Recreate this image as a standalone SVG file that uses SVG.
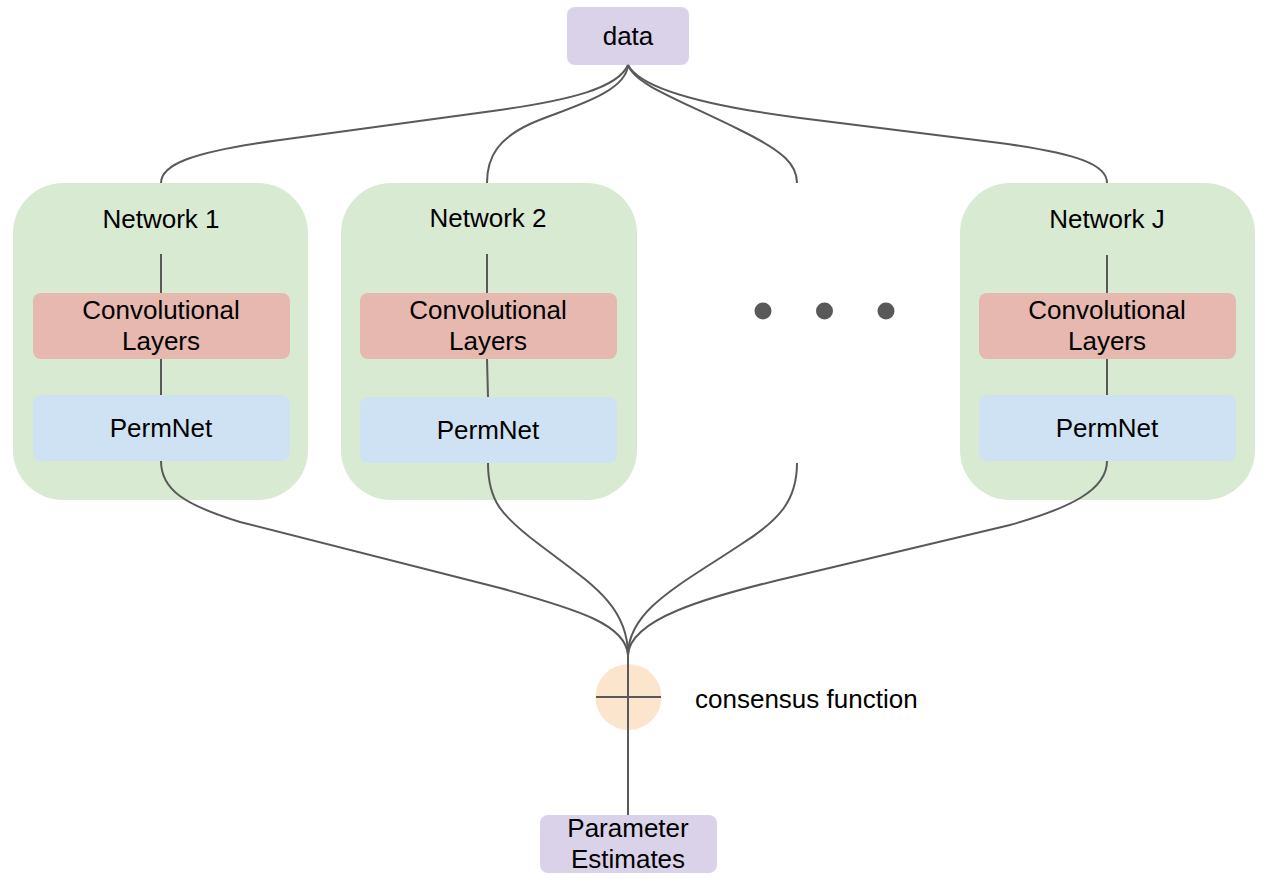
<svg xmlns="http://www.w3.org/2000/svg" width="1266" height="889" viewBox="0 0 1266 889">
<style>
.t{font-family:"Liberation Sans",Arial,sans-serif;font-size:26px;fill:#000;text-anchor:middle}
.net{fill:#d9ead3}
.conv{fill:#e6b8af}
.perm{fill:#cfe2f3}
.io{fill:#d9d2e9}
.ln{fill:none;stroke:#595959;stroke-width:2}
.dot{fill:#595959}
</style>
<rect width="1266" height="889" fill="#ffffff"/>
<g id="network1">
<rect class="net" x="13" y="183" width="295" height="317" rx="50"/>
<text class="t" x="161" y="228">Network 1</text>
<rect class="conv" x="33" y="293" width="257" height="66" rx="8"/>
<text class="t" x="161" y="319">Convolutional</text>
<text class="t" x="161" y="350">Layers</text>
<rect class="perm" x="33" y="395" width="257" height="66" rx="8"/>
<text class="t" x="161" y="437">PermNet</text>
</g>
<g id="network2">
<rect class="net" x="341" y="183" width="296" height="317" rx="50"/>
<text class="t" x="488" y="227">Network 2</text>
<rect class="conv" x="360" y="293" width="257" height="66" rx="8"/>
<text class="t" x="488" y="319">Convolutional</text>
<text class="t" x="488" y="350">Layers</text>
<rect class="perm" x="360" y="397" width="257" height="66" rx="8"/>
<text class="t" x="488" y="439">PermNet</text>
</g>
<g id="networkJ">
<rect class="net" x="960" y="183" width="295" height="317" rx="50"/>
<text class="t" x="1107" y="228">Network J</text>
<rect class="conv" x="979" y="293" width="257" height="66" rx="8"/>
<text class="t" x="1107" y="319">Convolutional</text>
<text class="t" x="1107" y="350">Layers</text>
<rect class="perm" x="979" y="395" width="257" height="66" rx="8"/>
<text class="t" x="1107" y="437">PermNet</text>
</g>
<g id="ellipsis">
<circle class="dot" cx="763" cy="311" r="8.5"/>
<circle class="dot" cx="824.5" cy="311" r="8.5"/>
<circle class="dot" cx="886" cy="311" r="8.5"/>
</g>
<g id="data">
<rect class="io" x="567" y="7" width="122" height="58" rx="8"/>
<text class="t" x="628" y="45">data</text>
</g>
<g id="consensus">
<circle cx="628.5" cy="697" r="33" fill="#fce5cd"/>
<text x="695" y="708" style="font-family:'Liberation Sans',Arial,sans-serif;font-size:26px;fill:#000">consensus function</text>
</g>
<g id="estimates">
<rect class="io" x="540" y="815" width="177" height="58" rx="8"/>
<text class="t" x="628" y="837">Parameter</text>
<text class="t" x="628" y="868">Estimates</text>
</g>
<g id="connectors">
<path class="ln" d="M628,65 C618,88 570,100 500,110 L280,140 C190,152 161,165 161,183"/>
<path class="ln" d="M628,65 C626,95 560,110 530,124 C500,138 487,155 487,183"/>
<path class="ln" d="M628,65 C635,85 680,100 740,130 C785,152 797,165 797,183"/>
<path class="ln" d="M628,65 C640,88 700,105 800,118 L1000,143 C1080,154 1107,165 1107,183"/>
<path class="ln" d="M161,254 V293 M161,359 V395"/>
<path class="ln" d="M487,254 V293 M487,359 L488,397"/>
<path class="ln" d="M1107,255 V293 M1107,359 V395"/>
<path class="ln" d="M161,461 C161,490 185,505 240,522 L500,588 C580,610 626,625 628,655"/>
<path class="ln" d="M488,463 C488,500 500,515 540,545 C590,583 628,605 628,655"/>
<path class="ln" d="M797,463 C797,500 780,520 740,545 C680,585 628,610 628,655"/>
<path class="ln" d="M1107,461 C1107,490 1070,508 1010,525 L800,575 C700,598 630,620 628,655"/>
<path class="ln" d="M628,650 V815"/>
<path class="ln" d="M596,697 H661"/>
</g>
</svg>
